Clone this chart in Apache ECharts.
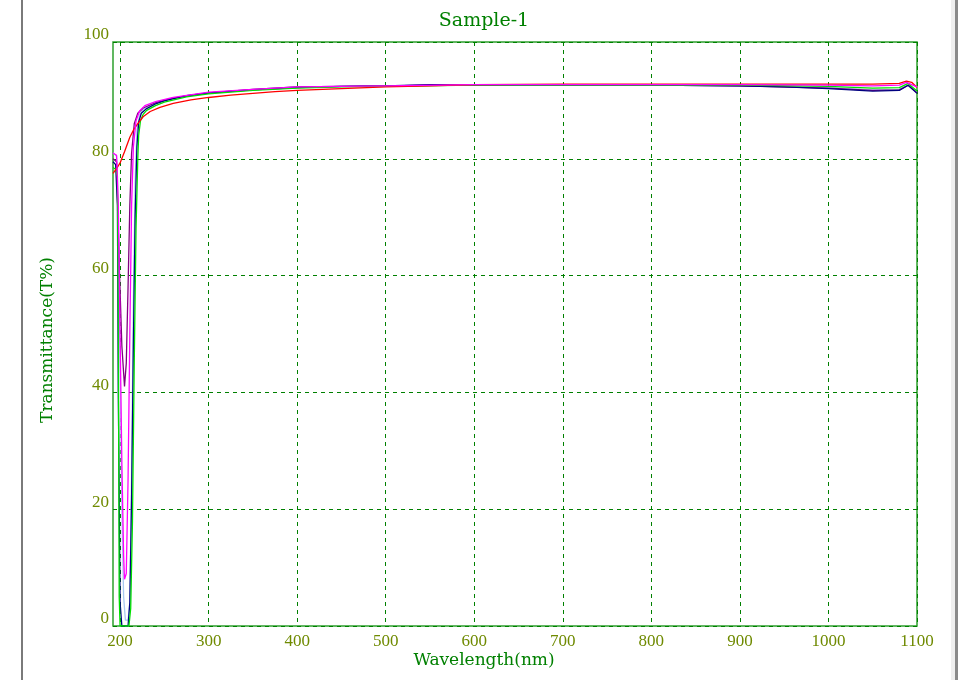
<!DOCTYPE html>
<html>
<head>
<meta charset="utf-8">
<script src="https://cdn.jsdelivr.net/npm/echarts@6/dist/echarts.min.js"></script>
<style>html,body{margin:0;padding:0;background:#fff}#c{width:968px;height:680px}</style>
</head>
<body>
<div id="c"></div>
<script>
// wavelength (nm) / transmittance (%) pairs
const xTicks = [200, 300, 400, 500, 600, 700, 800, 900, 1000, 1100];
const yTicks = [0, 20, 40, 60, 80, 100];

const lightBlue = [[192,81],[196,80.5],[198,70],[200,45],[202,20],[204,5],[206,1],[209,1],[211,4],[213,25],[215,55],[217,76],[219,85],[222,87.5],[226,88.5],[235,89.3],[250,90.1],[275,90.8],[300,91.3],[350,91.9],[400,92.3],[500,92.5],[600,92.7],[700,92.6],[800,92.6],[900,92.5],[1000,92.2],[1050,91.8],[1080,91.9],[1090,92.7],[1100,91.4]];
const purple = [[192,80],[196,79.5],[199,62],[202,48],[205,41],[207,45],[209,58],[211,72],[213,81],[216,86],[220,87.8],[226,88.7],[240,89.6],[260,90.4],[300,91.3],[350,91.9],[400,92.3],[500,92.5],[600,92.7],[700,92.6],[800,92.6],[900,92.5],[1000,92.1],[1050,91.7],[1080,91.8],[1090,92.6],[1100,91.3]];
const navy = [[192,79.5],[195,79],[197,72],[198,40],[200,4],[202,0],[209,0],[211,4],[213,22],[215,48],[217,70],[219,82],[221,86.3],[224,87.8],[230,88.6],[240,89.4],[250,89.9],[275,90.8],[300,91.3],[350,91.8],[400,92.2],[450,92.4],[500,92.5],[550,92.7],[600,92.6],[700,92.6],[800,92.6],[900,92.5],[950,92.3],[1000,92.0],[1050,91.6],[1080,91.7],[1090,92.6],[1100,91.2]];
const green = [[192,78.5],[195,78.2],[197,77],[198,50],[199,5],[200,0],[205,0],[210,0],[212,3],[214,18],[216,45],[218,68],[220,80],[221,84],[223,86.5],[226,87.6],[230,88.3],[240,89.1],[250,89.7],[275,90.6],[300,91.1],[350,91.7],[400,92.1],[450,92.3],[500,92.4],[600,92.6],[700,92.6],[800,92.6],[900,92.6],[1000,92.4],[1050,92.1],[1080,92.2],[1090,92.9],[1100,91.6]];
const red = [[192,77.5],[196,78.3],[200,79.3],[205,81.2],[211,83.7],[215,84.9],[219,85.8],[226,87.2],[234,88.1],[245,88.8],[260,89.5],[280,90.1],[300,90.5],[325,90.9],[350,91.2],[375,91.5],[400,91.7],[450,92.0],[500,92.3],[550,92.5],[600,92.7],[700,92.8],[800,92.8],[900,92.8],[1000,92.8],[1050,92.8],[1080,92.9],[1088,93.3],[1094,93.1],[1100,92.2]];
const magenta = [[192,81],[196,80.6],[198,72],[200,50],[202,28],[204,12],[205,8],[207,9],[209,25],[211,50],[213,72],[215,82],[218,86.5],[222,88.2],[228,89.1],[240,89.8],[260,90.5],[300,91.4],[350,91.9],[400,92.3],[500,92.5],[600,92.7],[700,92.7],[800,92.7],[900,92.7],[1000,92.6],[1050,92.5],[1080,92.6],[1088,93.1],[1100,92.3]];

const curves = [
  ['lightblue', lightBlue, '#a8c8f0'],
  ['purple', purple, '#800080'],
  ['navy', navy, '#000080'],
  ['green', green, '#00e000'],
  ['red', red, '#ff0000'],
  ['magenta', magenta, '#ff00ff']
];

const serif = '"Liberation Serif", "Times New Roman", serif';
const wide = '"DejaVu Serif", serif';
const gridGreen = '#008000';
const labelCol = '#6f8a00';

const chart = echarts.init(document.getElementById('c'), null, {renderer: 'canvas'});
chart.setOption({
  backgroundColor: '#fff',
  animation: false,
  title: {
    text: 'Sample-1', left: 'center', top: 7,
    textStyle: {fontFamily: wide, fontSize: 19, fontWeight: 'normal', color: gridGreen}
  },
  grid: {left: 113, right: 51, top: 42, bottom: 54, show: true, borderColor: '#2ea02e', borderWidth: 1.5},
  xAxis: {
    type: 'value', min: 192, max: 1100,
    axisLine: {show: false},
    axisTick: {show: false, customValues: xTicks},
    axisLabel: {customValues: xTicks, formatter: v => String(v), fontFamily: serif, fontSize: 17, color: labelCol, margin: 7},
    splitLine: {show: true, lineStyle: {color: gridGreen, type: [4, 4], width: 1}}
  },
  yAxis: {
    type: 'value', min: 0, max: 100, interval: 20,
    axisLine: {show: false},
    axisTick: {show: false},
    axisLabel: {formatter: v => String(v), fontFamily: serif, fontSize: 17, color: labelCol, margin: 4, verticalAlign: 'bottom', lineHeight: 14},
    splitLine: {show: true, lineStyle: {color: gridGreen, type: [4, 4], width: 1}}
  },
  series: curves.map(([name, data, color]) => ({
    name, type: 'line', data, showSymbol: false, symbol: 'none',
    lineStyle: {color, width: 1.3}, z: 3
  })),
  graphic: [
    {type: 'rect', shape: {x: 21, y: 0, width: 2, height: 680}, style: {fill: '#7a7a7a'}, silent: true},
    {type: 'rect', shape: {x: 951, y: 0, width: 4, height: 680}, style: {fill: '#efefef'}, silent: true},
    {type: 'rect', shape: {x: 955, y: 0, width: 3, height: 680}, style: {fill: '#8a8a8a'}, silent: true},
    {type: 'text', left: 'center', top: 652,
      style: {text: 'Wavelength(nm)', font: '17px ' + wide, fill: gridGreen}},
    {type: 'text', x: 48, y: 340, rotation: Math.PI / 2,
      style: {text: 'Transmittance(T%)', font: '17px ' + wide, fill: gridGreen, align: 'center', verticalAlign: 'middle'},
      originX: 0, originY: 0}
  ]
});
</script>
</body>
</html>
